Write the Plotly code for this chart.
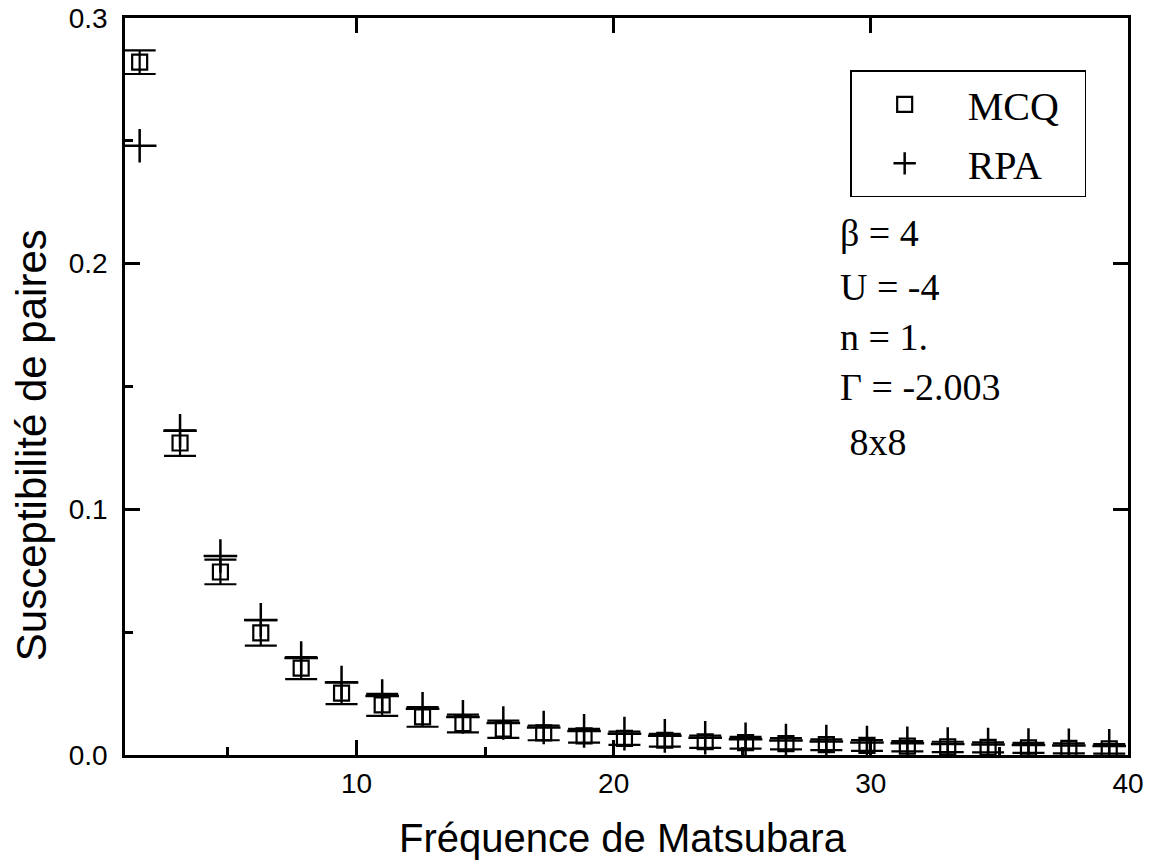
import plotly.graph_objects as go

# Matsubara frequencies (bosonic, beta = 4)
freq = [1.57, 3.14, 4.71, 6.28, 7.85, 9.42, 11.00, 12.57, 14.14, 15.71,
        17.28, 18.85, 20.42, 21.99, 23.56, 25.13, 26.70, 28.27, 29.85, 31.42,
        32.99, 34.56, 36.13, 37.70, 39.27]

mcq = [0.282, 0.127, 0.0745, 0.0497, 0.0354, 0.0252, 0.0204, 0.0155, 0.0128, 0.0105,
       0.0090, 0.0078, 0.0068, 0.0060, 0.0054, 0.0050, 0.0046, 0.0042, 0.0039, 0.0036,
       0.0033, 0.0031, 0.0029, 0.0027, 0.0025]

mcq_err = [0.0048, 0.0052, 0.0050, 0.0052, 0.0045, 0.0045, 0.0045, 0.0040, 0.0036, 0.0035,
           0.0030, 0.0028, 0.0027, 0.0026, 0.0025, 0.0024, 0.0023, 0.0022, 0.0022, 0.0021,
           0.0021, 0.0020, 0.0020, 0.0020, 0.0019]

rpa = [0.248, 0.132, 0.081, 0.055, 0.0395, 0.0295, 0.0240, 0.0188, 0.0155, 0.0130,
       0.0112, 0.0098, 0.0087, 0.0078, 0.0070, 0.0064, 0.0059, 0.0055, 0.0051, 0.0048,
       0.0045, 0.0043, 0.0041, 0.0039, 0.0037]

params = ["β = 4", "U = -4", "n = 1.", "Γ = -2.003", " 8x8"]

SANS = "Liberation Sans, Arial, Helvetica, sans-serif"
SERIF = "Liberation Serif, Times New Roman, serif"
PAD = "\u00a0\u00a0"

fig = go.Figure()
fig.add_trace(go.Scatter(
    x=freq, y=mcq, mode="markers", name="MCQ" + PAD, legendgroup="a",
    marker=dict(symbol="square-open", size=15, color="black", line=dict(width=2.2, color="black")),
    error_y=dict(type="data", array=mcq_err, visible=True, color="black", thickness=2.2, width=16),
))
fig.add_trace(go.Scatter(
    x=freq, y=rpa, mode="markers", name="RPA" + PAD, legendgroup="b",
    marker=dict(symbol="cross-thin-open", size=24, color="black", line=dict(width=2.5, color="black")),
))
# mirrored top/right axes with major ticks only
fig.add_trace(go.Scatter(x=[None], y=[None], xaxis="x2", yaxis="y2", showlegend=False, hoverinfo="skip"))

axis_common = dict(showline=True, linecolor="black", linewidth=2.5, showgrid=False, zeroline=False,
                   ticks="inside", ticklen=15, tickwidth=2.5, tickcolor="black", automargin=False)

fig.update_layout(
    width=1158, height=863,
    paper_bgcolor="white", plot_bgcolor="white",
    margin=dict(l=125, r=30, t=18, b=108, autoexpand=False),
    showlegend=True,
    xaxis=dict(range=[1, 40], tickvals=[10, 20, 30, 40], mirror=True,
               minor=dict(ticks="inside", ticklen=8, tickwidth=2.5, tickcolor="black", dtick=5, tick0=0),
               tickfont=dict(family=SANS, size=28, color="black"), ticklabelstandoff=2,
               **axis_common),
    yaxis=dict(range=[0, 0.3], tickvals=[0.0, 0.1, 0.2, 0.3], tickformat=".1f", mirror=True,
               minor=dict(ticks="inside", ticklen=8, tickwidth=2.5, tickcolor="black", dtick=0.05, tick0=0),
               tickfont=dict(family=SANS, size=28, color="black"), ticklabelstandoff=9,
               **axis_common),
    xaxis2=dict(overlaying="x", side="top", range=[1, 40], tickvals=[10, 20, 30, 40],
                showticklabels=False, **axis_common),
    yaxis2=dict(overlaying="y", side="right", range=[0, 0.3], tickvals=[0.1, 0.2, 0.3],
                showticklabels=False, **axis_common),
    legend=dict(x=0.723, y=0.929, xanchor="left", yanchor="top",
                bgcolor="white", bordercolor="black", borderwidth=1.5,
                font=dict(family=SERIF, size=40, color="black"),
                itemwidth=116, indentation=-10, tracegroupgap=4, traceorder="grouped"),
)

ann_y = [0.708, 0.635, 0.567, 0.499, 0.425]
for txt, yy in zip(params, ann_y):
    fig.add_annotation(text=txt, xref="paper", yref="paper", x=0.711, y=yy,
                       xanchor="left", yanchor="middle", showarrow=False,
                       font=dict(family=SERIF, size=38, color="black"))

fig.add_annotation(text="Fréquence de Matsubara", xref="paper", yref="paper",
                   x=0.497, y=-0.113, xanchor="center", yanchor="middle", showarrow=False,
                   font=dict(family=SANS, size=40, color="black"))
fig.add_annotation(text="Susceptibilité de paires", xref="paper", yref="paper",
                   x=-0.093, y=0.42, xanchor="center", yanchor="middle", showarrow=False,
                   textangle=-90, font=dict(family=SANS, size=42, color="black"))

fig.write_html("out.html", config={"displayModeBar": False},
               post_script="document.body.style.margin='0';document.body.style.overflow='hidden';")
